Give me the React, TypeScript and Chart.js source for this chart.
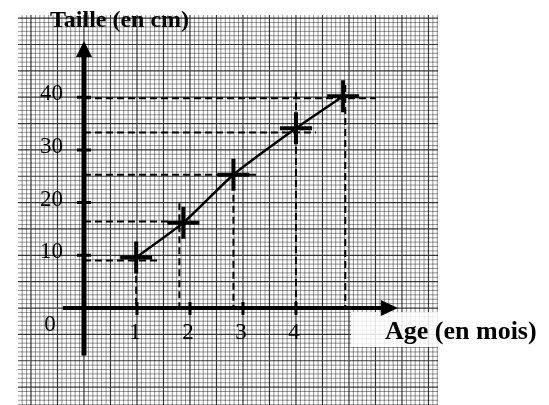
import React, { useEffect, useRef } from "react";
import { Chart, registerables } from "chart.js";

Chart.register(...registerables);

// Data
const ages = [0.985, 1.875, 2.82, 4.0, 4.89];
const heights = [9.6, 16.2, 25.3, 34.1, 40.2];

// dashed reading guides (hand-drawn, slightly off the points)
const guideX = [0.985, 1.8, 2.82, 4.0, 4.93];
const guideXTop = [8.2, 19.9, 21.5, 41.0, 42.3];
const guideY = [9.0, 16.4, 25.3, 33.3, 39.8];
const guideYEnd = [1.38, 1.6, 3.32, 4.38, 5.51];

const xTicks = [1, 2, 3, 4];
const xTickLabels = ["1", "2", "3", "4"];
const yTicks = [10, 20, 30, 40];
const yTickLabels = ["10", "20", "30", "40"];

const xTitle = "Age (en mois)";
const yTitle = "Taille (en cm)";

const X_MIN = -1.245;
const X_MAX = 6.68;
const Y_MIN = -18.4;
const Y_MAX = 55.6;

const paperPlugin = {
  id: "paper",
  beforeDatasetsDraw(chart: any) {
    const { ctx, chartArea, scales } = chart;
    const xs = scales.x;
    const ys = scales.y;
    ctx.save();
    const drawGrid = (major: boolean) => {
      ctx.beginPath();
      for (let i = Math.ceil(X_MIN * 12); i <= Math.floor(X_MAX * 12); i++) {
        if ((i % 6 === 0) !== major) continue;
        const px = xs.getPixelForValue(i / 12);
        ctx.moveTo(px, chartArea.top);
        ctx.lineTo(px, chartArea.bottom);
      }
      for (let j = Math.ceil((Y_MIN * 6) / 5); j <= Math.floor((Y_MAX * 6) / 5); j++) {
        if ((j % 6 === 0) !== major) continue;
        const py = ys.getPixelForValue((j * 5) / 6);
        ctx.moveTo(chartArea.left, py);
        ctx.lineTo(chartArea.right, py);
      }
      ctx.strokeStyle = major ? "rgba(0,0,0,0.78)" : "rgba(0,0,0,0.42)";
      ctx.lineWidth = major ? 1.2 : 1;
      ctx.stroke();
    };
    drawGrid(false);
    drawGrid(true);
    // white patch behind the x title
    ctx.fillStyle = "rgba(255,255,255,0.85)";
    ctx.fillRect(351, 312, chartArea.right - 351, 35);
    ctx.restore();
  },
  afterDatasetsDraw(chart: any) {
    const { ctx, scales } = chart;
    const xs = scales.x;
    const ys = scales.y;
    const x0 = xs.getPixelForValue(0);
    const y0 = ys.getPixelForValue(0);
    ctx.save();
    ctx.strokeStyle = "#000";
    ctx.fillStyle = "#000";
    ctx.lineCap = "butt";
    // y axis
    const yTop = ys.getPixelForValue(48);
    ctx.lineWidth = 5;
    ctx.beginPath();
    ctx.moveTo(x0, ys.getPixelForValue(-9));
    ctx.lineTo(x0, yTop);
    ctx.stroke();
    ctx.beginPath();
    ctx.moveTo(x0, yTop - 14);
    ctx.lineTo(x0 - 8, yTop + 2);
    ctx.lineTo(x0 + 8, yTop + 2);
    ctx.closePath();
    ctx.fill();
    // x axis
    const xEnd = xs.getPixelForValue(5.62);
    ctx.lineWidth = 4;
    ctx.beginPath();
    ctx.moveTo(xs.getPixelForValue(-0.4), y0);
    ctx.lineTo(xEnd, y0);
    ctx.stroke();
    ctx.beginPath();
    ctx.moveTo(xEnd + 16, y0);
    ctx.lineTo(xEnd - 1, y0 - 8);
    ctx.lineTo(xEnd - 1, y0 + 8);
    ctx.closePath();
    ctx.fill();
    // ticks
    ctx.lineWidth = 3;
    ctx.beginPath();
    yTicks.forEach((v) => {
      const py = ys.getPixelForValue(v);
      ctx.moveTo(x0 - 7, py);
      ctx.lineTo(x0 + 7, py);
    });
    xTicks.forEach((v) => {
      const px = xs.getPixelForValue(v);
      ctx.moveTo(px, y0 - 6);
      ctx.lineTo(px, y0 + 7);
    });
    ctx.stroke();
    // tick labels
    ctx.font = "23px 'Liberation Serif'";
    ctx.textBaseline = "middle";
    ctx.textAlign = "right";
    yTicks.forEach((v, i) => {
      ctx.fillText(yTickLabels[i], x0 - 21, ys.getPixelForValue(v) - 3);
    });
    ctx.textAlign = "center";
    xTicks.forEach((v, i) => {
      ctx.fillText(xTickLabels[i], xs.getPixelForValue(v) - 2, y0 + 25);
    });
    ctx.fillText("0", x0 - 34, y0 + 17);
    // titles
    ctx.textBaseline = "alphabetic";
    ctx.textAlign = "left";
    ctx.font = "bold 24px 'Liberation Serif'";
    ctx.fillText(yTitle, 50, 27);
    ctx.font = "bold 26px 'Liberation Serif'";
    ctx.fillText(xTitle, 385, 339);
    ctx.restore();
  },
};

export default function App() {
  const ref = useRef<HTMLCanvasElement | null>(null);
  useEffect(() => {
    if (!ref.current) return;
    const dashed: any[] = [];
    guideY.forEach((y, i) => {
      dashed.push({
        data: [
          { x: 0, y },
          { x: guideYEnd[i], y },
        ],
        borderColor: "#000",
        borderWidth: 2,
        borderDash: [7, 4],
        pointRadius: 0,
        showLine: true,
      });
    });
    guideX.forEach((x, i) => {
      dashed.push({
        data: [
          { x, y: guideXTop[i] },
          { x, y: 0 },
        ],
        borderColor: "#000",
        borderWidth: 2,
        borderDash: [7, 4],
        pointRadius: 0,
        showLine: true,
      });
    });
    const chart = new Chart(ref.current, {
      type: "scatter",
      data: {
        datasets: [
          ...dashed,
          {
            data: ages.map((a, i) => ({ x: a, y: heights[i] })),
            borderColor: "#000",
            borderWidth: 2.5,
            showLine: true,
            tension: 0.2,
            pointStyle: "cross",
            pointRadius: 16,
            pointBorderWidth: 4,
            pointBorderColor: "#000",
          },
        ],
      },
      options: {
        animation: false,
        responsive: false,
        devicePixelRatio: 1,
        layout: { autoPadding: false, padding: { left: 18, right: 111, top: 15, bottom: 0 } },
        plugins: { legend: { display: false }, tooltip: { enabled: false } },
        events: [],
        scales: {
          x: { type: "linear", min: X_MIN, max: X_MAX, display: false },
          y: { type: "linear", min: Y_MIN, max: Y_MAX, display: false },
        },
      },
      plugins: [paperPlugin],
    });
    return () => chart.destroy();
  }, []);
  return (
    <div style={{ position: "absolute", left: 0, top: 0, width: 549, height: 405, background: "#fff" }}>
      <canvas ref={ref} width={549} height={405} style={{ display: "block", width: 549, height: 405 }} />
    </div>
  );
}
